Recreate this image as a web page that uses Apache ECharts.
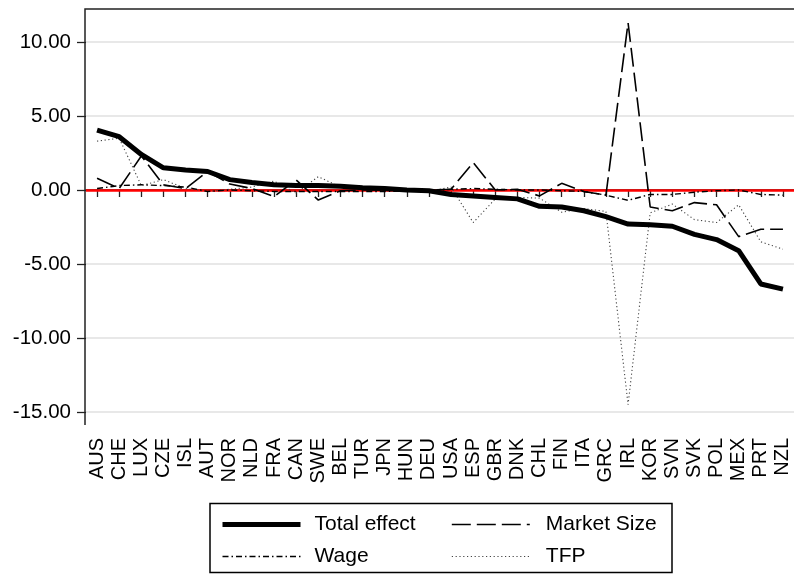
<!DOCTYPE html>
<html>
<head>
<meta charset="utf-8">
<script src="https://cdn.jsdelivr.net/npm/echarts@6/dist/echarts.min.js"></script>
<style>
html,body{margin:0;padding:0;background:#fff;}
#chart{width:794px;height:574px;}
</style>
</head>
<body>
<div id="chart"></div>
<script>
var countries = ['AUS','CHE','LUX','CZE','ISL','AUT','NOR','NLD','FRA','CAN','SWE','BEL','TUR','JPN','HUN','DEU','USA','ESP','GBR','DNK','CHL','FIN','ITA','GRC','IRL','KOR','SVN','SVK','POL','MEX','PRT','NZL'];
var totalEffect = [4.05,3.6,2.4,1.5,1.35,1.25,0.7,0.5,0.35,0.3,0.3,0.25,0.15,0.1,0.0,-0.05,-0.3,-0.4,-0.5,-0.6,-1.1,-1.15,-1.4,-1.8,-2.3,-2.35,-2.45,-3.0,-3.35,-4.1,-6.35,-6.7];
var marketSize = [0.8,0.1,2.3,0.35,0.1,1.25,0.4,0.1,-0.45,0.68,-0.68,-0.05,0.0,0.0,0.0,0.0,0.05,1.85,0.0,0.05,-0.4,0.45,-0.1,-0.35,11.3,-1.15,-1.4,-0.85,-1.0,-3.15,-2.65,-2.65];
var wage = [0.1,0.3,0.35,0.3,0.2,-0.1,0.0,-0.05,-0.1,-0.1,-0.1,-0.1,-0.1,-0.1,-0.05,-0.05,0.05,0.1,0.05,0.0,0.0,-0.05,-0.1,-0.35,-0.7,-0.3,-0.3,-0.15,-0.05,0.0,-0.3,-0.35];
var tfp = [3.3,3.5,0.3,0.7,0.1,-0.1,0.05,0.2,0.6,-0.2,0.9,0.2,0.05,-0.05,-0.05,-0.1,0.2,-2.2,-0.6,-0.5,-0.55,-1.5,-1.25,-1.45,-14.5,-1.55,-0.95,-2.0,-2.2,-1.0,-3.5,-4.0];
var yTicks = {min: -15, max: 10, interval: 5};

var FONT = 'Liberation Sans, Arial, sans-serif';
var chart = echarts.init(document.getElementById('chart'), null, {renderer: 'canvas'});
var legendCommon = {
  orient: 'vertical', top: 514, padding: 0, itemWidth: 78, itemHeight: 14, itemGap: 11,
  lineStyle: {width: 'inherit'},
  itemStyle: {opacity: 0, borderWidth: 0}
};
var option = {
  animation: false,
  backgroundColor: '#fff',
  grid: {left: 86, top: 42, right: -1, bottom: 162, containLabel: false},
  xAxis: {
    type: 'category',
    data: countries,
    boundaryGap: true,
    offset: 13,
    axisLine: {show: true, lineStyle: {color: '#222', width: 1.5}},
    axisTick: {show: true, alignWithLabel: true, interval: 0, length: 7, lineStyle: {color: '#222', width: 1.3}},
    axisLabel: {interval: 0, rotate: 90, fontSize: 20, fontFamily: FONT, color: '#000', margin: 13},
    splitLine: {show: false}
  },
  yAxis: {
    type: 'value',
    min: yTicks.min, max: yTicks.max, interval: yTicks.interval,
    axisLine: {show: false},
    axisTick: {show: true, length: 9, lineStyle: {color: '#222', width: 1.3}},
    axisLabel: {fontSize: 20.5, fontFamily: FONT, color: '#000', margin: 15,
      formatter: function (v) { return v.toFixed(2); }},
    splitLine: {show: true, lineStyle: {color: '#e0e0e0', width: 1.5}}
  },
  legend: [
    Object.assign({}, legendCommon, {left: 220, data: ['Total effect', 'Wage'],
      textStyle: {fontSize: 21, fontFamily: FONT, color: '#000', padding: [0, 0, 0, 9]}}),
    Object.assign({}, legendCommon, {left: 451, data: ['Market Size', 'TFP'],
      textStyle: {fontSize: 21, fontFamily: FONT, color: '#000', padding: [0, 0, 0, 11]}})
  ],
  graphic: [
    {type: 'polyline', silent: true, z: 10,
      shape: {points: [[800, 9], [85, 9], [85, 425]]},
      style: {stroke: '#222', lineWidth: 1.5, fill: null}},
    {type: 'rect', silent: true, z: 10,
      shape: {x: 210, y: 503.5, width: 462, height: 69},
      style: {stroke: '#000', lineWidth: 1.5, fill: null}}
  ],
  series: [
    {
      name: 'TFP', type: 'line', data: tfp, symbol: 'none', clip: false, z: 3,
      lineStyle: {color: '#444', width: 1.1, type: [1.2, 2.6]},
      itemStyle: {color: '#444'},
      markLine: {
        silent: true, symbol: 'none', z: 1, label: {show: false},
        lineStyle: {color: '#ff0000', width: 2.5, type: 'solid'},
        data: [{yAxis: 0}]
      }
    },
    {
      name: 'Wage', type: 'line', data: wage, symbol: 'none', clip: false, z: 3,
      lineStyle: {color: '#000', width: 1.4, type: [6, 3, 1.5, 3]},
      itemStyle: {color: '#000'}
    },
    {
      name: 'Market Size', type: 'line', data: marketSize, symbol: 'none', clip: false, z: 3,
      lineStyle: {color: '#000', width: 1.6, type: [19, 6]},
      itemStyle: {color: '#000'}
    },
    {
      name: 'Total effect', type: 'line', data: totalEffect, symbol: 'none', clip: false, z: 4,
      lineStyle: {color: '#000', width: 5},
      itemStyle: {color: '#000'}
    }
  ]
};
chart.setOption(option);
</script>
</body>
</html>
